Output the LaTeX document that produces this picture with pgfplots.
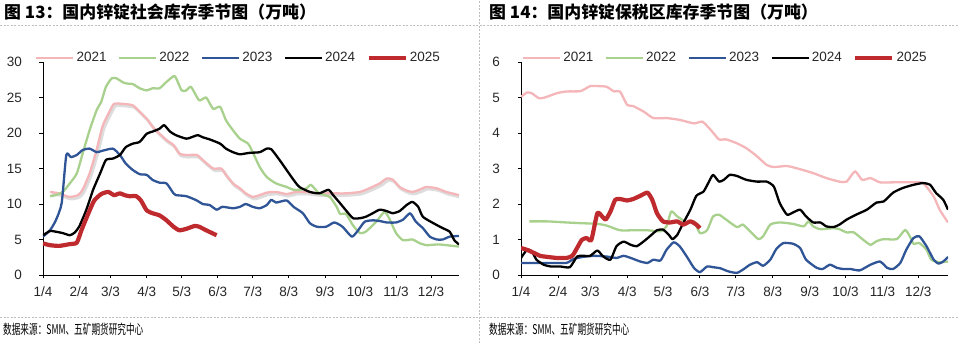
\documentclass[border=0pt]{standalone}
\usepackage{pgfplots}
\pgfplotsset{compat=1.18}
\usepackage{fontspec}
\setmainfont{Liberation Sans}
\newfontfamily\cjk{Noto Sans CJK SC}
\newfontfamily\cjknarrow[FakeStretch=0.64]{Noto Sans CJK SC}
\definecolor{c21}{HTML}{F4B6B9}
\definecolor{c22}{HTML}{A9D18E}
\definecolor{c23}{HTML}{2F5597}
\definecolor{c24}{HTML}{000000}
\definecolor{c25}{HTML}{BE2A2E}
\definecolor{dashc}{HTML}{BFBFBF}
\pgfplotsset{
  zinc/.style={
    scale only axis,
    axis lines*=left,
    axis line style={draw=black, line width=0.9pt},
    tick style={draw=black, line width=0.9pt},
    major tick length=3.5pt,
    tick align=outside,
    xmin=3, ymin=0,
    xtick={3,34,61,92,122,153,183,214,245,275,306,336},
    xticklabels={1/4,2/4,3/3,4/3,5/3,6/3,7/3,8/3,9/3,10/3,11/3,12/3},
    /pgf/number format/assume math mode=true,
    ticklabel style={font=\fontsize{13.5}{13.5}\selectfont, text=black!85},
    yticklabel style={xshift=-14pt},
    xticklabel style={yshift=-5pt},
    legend columns=5,
    legend cell align=left,
    legend style={draw=none, fill=none, inner sep=0pt, anchor=west,
      font=\fontsize{13.5}{13.5}\selectfont, text=black!85,
      column sep=0pt,
      /tikz/every odd column/.append style={column sep=0pt},
      /tikz/every even column/.append style={column sep=9.5pt}},
    legend image code/.code={\draw[##1] (0pt,0pt) -- (37pt,0pt);},
    every axis plot/.append style={smooth, tension=0.35, mark=none, line join=round},
  },
  l21/.style={c21, line width=2.3pt},
  l22/.style={c22, line width=2.3pt},
  l23/.style={c23, line width=2.3pt},
  l24/.style={c24, line width=2.3pt},
  l25/.style={c25, line width=4.2pt},
}
\begin{document}
\begin{tikzpicture}[x=1pt,y=1pt]
\useasboundingbox (0,0) rectangle (959,343);
% frame lines
\draw[dashc, line width=0.7pt, dash pattern=on 2pt off 1.5pt] (0,318) -- (959,318);
\draw[dashc, line width=0.7pt, dash pattern=on 2pt off 1.5pt] (0,26) -- (959,26);
\draw[dashc, line width=0.7pt, dash pattern=on 2pt off 1.5pt] (479,0) -- (479,343);
% titles
\node[anchor=west, inner sep=0pt, font=\cjk\bfseries\fontsize{16.9}{17}\selectfont] at (4,331) {图 13：国内锌锭社会库存季节图（万吨）};
\node[anchor=west, inner sep=0pt, font=\cjk\bfseries\fontsize{16.9}{17}\selectfont] at (489,331) {图 14：国内锌锭保税区库存季节图（万吨）};
\node[anchor=west, inner sep=0pt, font=\cjknarrow\fontsize{13.5}{13.5}\selectfont] at (3,14) {数据来源：SMM、五矿期货研究中心};
\node[anchor=west, inner sep=0pt, font=\cjknarrow\fontsize{13.5}{13.5}\selectfont] at (489,14) {数据来源：SMM、五矿期货研究中心};

% left axis
\begin{axis}[zinc, at={(43pt,68pt)}, anchor=south west, width=416pt, height=213pt,
  xmax=360, ymax=30, ytick={0,5,10,15,20,25,30},
  legend style={at={(-0.019,1.02)}}]
\addplot[gray!45, line width=3pt, opacity=0.6, xshift=1.5pt, yshift=-2pt, forget plot] coordinates {
(9,11.7)(17,11.5)(23,11.1)(27,11.0)(33,11.25)(37,12.0)(43,14.3)(49,17.6)(54,20.9)(60,23.0)(64,24.1)(72,24.1)(80,23.9)(86,23.0)(92,22.0)(97,20.9)(103,19.9)(109,19.0)(115,18.3)(120,17.1)(126,16.9)(135,16.9)(140,16.2)(149,15.0)(156,15.0)(160,14.1)(166,12.9)(172,12.2)(177,11.5)(183,11.0)(189,11.25)(195,11.6)(203,11.7)(212,11.4)(220,11.7)(229,11.7)(240,11.5)(252,11.5)(263,11.5)(275,11.7)(283,12.2)(292,12.9)(298,13.6)(303,13.45)(309,12.4)(315,11.9)(320,11.7)(326,12.0)(332,12.4)(341,12.2)(349,11.7)(360,11.25)};
\addplot[l21] coordinates {
(9,11.7)(17,11.5)(23,11.1)(27,11.0)(33,11.25)(37,12.0)(43,14.3)(49,17.6)(54,20.9)(60,23.0)(64,24.1)(72,24.1)(80,23.9)(86,23.0)(92,22.0)(97,20.9)(103,19.9)(109,19.0)(115,18.3)(120,17.1)(126,16.9)(135,16.9)(140,16.2)(149,15.0)(156,15.0)(160,14.1)(166,12.9)(172,12.2)(177,11.5)(183,11.0)(189,11.25)(195,11.6)(203,11.7)(212,11.4)(220,11.7)(229,11.7)(240,11.5)(252,11.5)(263,11.5)(275,11.7)(283,12.2)(292,12.9)(298,13.6)(303,13.45)(309,12.4)(315,11.9)(320,11.7)(326,12.0)(332,12.4)(341,12.2)(349,11.7)(360,11.25)};
\addlegendentry{2021}
\addplot[l22] coordinates {
(9,11.1)(14,11.25)(20,11.7)(26,12.9)(32,14.3)(37,17.1)(43,20.4)(49,23.2)(53,24.4)(57,26.5)(62,27.7)(66,27.7)(72,27.1)(76,26.95)(80,26.9)(86,26.3)(92,26.0)(97,26.3)(103,26.3)(109,27.2)(115,28.0)(117,27.8)(122,26.0)(126,26.0)(130,26.5)(137,24.6)(143,25.0)(149,23.4)(155,23.7)(160,21.8)(166,20.4)(172,19.2)(179,18.5)(183,17.3)(189,15.2)(195,13.8)(203,12.9)(212,12.4)(218,12.0)(223,12.0)(229,12.2)(233,12.7)(240,11.5)(249,11.0)(255,9.6)(258,8.6)(263,8.6)(269,7.0)(275,5.9)(280,6.1)(289,7.5)(296,8.9)(300,8.0)(306,5.9)(312,4.9)(320,5.0)(326,4.5)(332,4.2)(343,4.3)(360,4.0)};
\addlegendentry{2022}
\addplot[l23] coordinates {
(3,5.4)(9,6.3)(14,7.7)(19,10.1)(23,16.9)(27,16.6)(32,16.9)(37,17.6)(43,17.8)(49,17.3)(54,17.5)(63,17.8)(69,16.9)(74,15.7)(80,14.8)(86,14.2)(92,14.1)(97,13.4)(103,13.0)(109,12.9)(115,11.5)(117,11.25)(126,11.1)(135,10.5)(140,10.0)(146,9.85)(152,9.2)(157,9.6)(166,9.4)(172,9.6)(177,10.0)(183,9.6)(189,9.4)(195,9.85)(199,10.6)(203,10.2)(212,10.5)(218,9.6)(226,8.7)(232,7.3)(238,6.8)(246,6.8)(253,7.4)(260,6.8)(268,5.4)(273,6.2)(279,7.5)(286,7.7)(292,7.6)(298,7.4)(306,7.4)(312,7.8)(318,8.7)(323,7.5)(329,6.6)(335,5.4)(341,5.0)(346,5.0)(352,5.4)(360,5.5)};
\addlegendentry{2023}
\addplot[l24] coordinates {
(3,5.6)(9,6.2)(14,6.1)(20,5.9)(26,5.6)(30,5.95)(34,6.8)(40,9.1)(46,12.0)(52,14.3)(57,16.2)(63,16.4)(69,16.9)(74,18.0)(80,18.5)(86,18.75)(92,19.9)(97,20.2)(103,20.6)(107,21.1)(112,20.2)(117,19.7)(126,19.2)(132,19.5)(136,19.7)(140,19.4)(146,19.1)(155,18.5)(160,17.8)(166,17.3)(172,17.0)(180,17.2)(189,17.3)(195,17.8)(199,17.7)(206,16.2)(212,14.8)(218,13.4)(223,12.4)(232,11.7)(240,11.5)(248,12.0)(252,11.25)(258,10.1)(263,9.1)(269,8.0)(275,8.0)(280,8.2)(286,8.7)(292,9.2)(298,9.0)(303,8.7)(309,9.0)(315,9.85)(320,10.3)(325,9.6)(329,8.2)(338,7.3)(346,6.6)(352,6.1)(356,4.9)(360,4.3)};
\addlegendentry{2024}
\addplot[l25] coordinates {
(3,4.45)(9,4.2)(17,4.1)(26,4.35)(32,4.55)(36,6.3)(42,8.7)(47,10.5)(53,11.4)(59,11.7)(64,11.25)(69,11.5)(73,11.25)(77,11.1)(83,11.1)(87,10.5)(92,9.1)(97,8.7)(103,8.4)(109,7.7)(115,6.8)(120,6.3)(126,6.5)(133,6.9)(137,6.8)(143,6.3)(152,5.6)};
\addlegendentry{2025}
\end{axis}

% right axis
\begin{axis}[zinc, at={(521pt,68pt)}, anchor=south west, width=427pt, height=213pt,
  xmax=361, ymax=6, ytick={0,1,2,3,4,5,6},
  legend style={at={(0.002,1.02)}}]
\addplot[l21] coordinates {
(3,5.02)(8,5.14)(12,5.12)(18,4.98)(23,5.0)(33,5.12)(41,5.17)(53,5.18)(61,5.32)(69,5.32)(75,5.3)(81,5.17)(86,5.17)(92,4.79)(97,4.76)(106,4.6)(114,4.42)(125,4.42)(136,4.37)(148,4.27)(155,4.32)(162,4.09)(169,3.82)(175,3.82)(184,3.71)(192,3.57)(201,3.34)(209,3.10)(215,3.04)(226,3.07)(237,2.98)(248,2.87)(259,2.73)(270,2.63)(276,2.63)(283,2.92)(289,2.68)(296,2.73)(304,2.61)(315,2.61)(329,2.61)(340,2.59)(349,2.21)(354,1.84)(361,1.48)};
\addlegendentry{2021}
\addplot[l22] coordinates {
(10,1.51)(25,1.51)(41,1.48)(53,1.46)(67,1.44)(75,1.39)(86,1.26)(97,1.26)(109,1.26)(120,1.23)(125,1.37)(129,1.79)(134,1.65)(142,1.48)(148,1.51)(153,1.18)(159,1.26)(164,1.65)(169,1.70)(175,1.56)(184,1.35)(189,1.42)(195,1.23)(202,1.01)(206,1.09)(212,1.42)(220,1.48)(231,1.44)(240,1.37)(244,1.51)(248,1.37)(254,1.29)(265,1.32)(270,1.29)(276,1.2)(282,1.2)(290,0.99)(296,0.85)(301,0.95)(307,1.01)(318,1.01)(325,1.27)(329,1.09)(332,0.88)(337,0.9)(343,0.71)(347,0.43)(354,0.36)(361,0.38)};
\addlegendentry{2022}
\addplot[l23] coordinates {
(3,0.34)(25,0.34)(41,0.34)(47,0.45)(55,0.51)(64,0.54)(75,0.52)(83,0.48)(89,0.54)(95,0.48)(103,0.38)(109,0.34)(114,0.43)(120,0.41)(125,0.71)(131,0.92)(136,0.81)(142,0.52)(148,0.2)(153,0.08)(159,0.24)(164,0.22)(170,0.19)(177,0.1)(184,0.06)(189,0.15)(195,0.29)(201,0.36)(206,0.26)(212,0.43)(217,0.73)(223,0.9)(231,0.88)(237,0.76)(242,0.43)(251,0.2)(256,0.17)(262,0.29)(268,0.2)(273,0.17)(279,0.17)(287,0.13)(296,0.29)(304,0.38)(310,0.2)(315,0.17)(321,0.34)(326,0.71)(332,1.04)(337,1.09)(343,0.81)(349,0.43)(353,0.32)(357,0.38)(361,0.51)};
\addlegendentry{2023}
\addplot[l24] coordinates {
(3,0.48)(8,0.71)(12,0.67)(16,0.43)(22,0.29)(28,0.24)(36,0.24)(44,0.22)(50,0.52)(55,0.54)(61,0.54)(67,0.69)(72,0.52)(78,0.43)(83,0.81)(89,0.94)(95,0.85)(100,0.81)(106,0.95)(111,1.09)(117,1.26)(122,1.28)(127,1.13)(130,1.01)(134,1.13)(139,1.46)(145,1.84)(150,2.23)(156,2.35)(160,2.59)(164,2.82)(169,2.63)(173,2.68)(178,2.82)(184,2.79)(192,2.68)(201,2.63)(209,2.63)(215,2.49)(220,2.02)(226,1.7)(231,1.76)(237,1.84)(242,1.65)(248,1.48)(254,1.48)(259,1.37)(265,1.35)(270,1.42)(276,1.56)(284,1.70)(293,1.84)(301,2.04)(307,2.07)(315,2.32)(323,2.45)(332,2.54)(340,2.59)(346,2.54)(351,2.31)(357,2.12)(361,1.84)};
\addlegendentry{2024}
\addplot[l25] coordinates {
(3,0.76)(8,0.71)(14,0.62)(19,0.54)(25,0.51)(33,0.48)(41,0.48)(46,0.54)(50,0.76)(54,0.99)(58,1.04)(62,0.99)(67,1.74)(71,1.65)(74,1.56)(78,1.79)(82,2.12)(86,2.14)(92,2.1)(97,2.14)(103,2.23)(109,2.32)(113,2.12)(117,1.74)(122,1.51)(128,1.48)(134,1.51)(139,1.42)(145,1.51)(150,1.42)(153,1.32)};
\addlegendentry{2025}
\end{axis}
\end{tikzpicture}
\end{document}
